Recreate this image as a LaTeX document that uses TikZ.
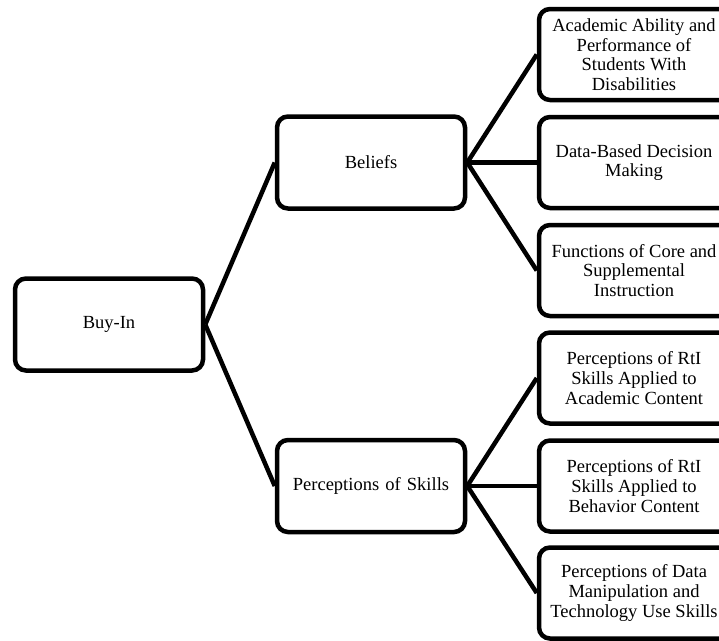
\documentclass[tikz,border=0pt]{standalone}
\usepackage{fontspec}
\setmainfont{Liberation Serif}
\usetikzlibrary{positioning}
\tikzstyle{caja}=[draw, line width=4.5pt, rounded corners=11pt, text width=176pt,
  text centered, minimum width=188pt, minimum height=92pt, inner sep=0pt,
  font=\fontsize{18.5}{19.6}\selectfont]
% the right column runs past the page edge
\tikzstyle{hoja}=[caja, text width=, minimum width=200pt, minimum height=91pt]
\tikzstyle{rama} = [draw, line width=4.5pt, color=black]
\newcommand{\caja}[2]{node (c#1) [caja] {#2}}
\newcommand{\hoja}[2]{node (c#1) [hoja] {\hspace*{-10pt}\parbox{176pt}{\centering #2}}}

\begin{document}
\begin{tikzpicture}[x=1pt,y=-1pt]
\useasboundingbox (0,0) rectangle (719,640);
\clip (0,0) rectangle (719,640);

% Draw diagram elements
\path (109,324.5)          \caja{1}{Buy-In};

\path (c1) +(262,-162.0)   \caja{2}{Beliefs};
\path (c2) +(0,323.5)      \caja{3}{Perceptions of Skills};

\path (c2) +(268,-108.0)   \hoja{4}{Academic Ability and\\ Performance of\\ Students With\\ Disabilities};
\path (c2) +(268,0.0)      \hoja{5}{Data-Based Decision\\ Making};
\path (c2) +(268,108.0)    \hoja{6}{Functions of Core and\\ Supplemental\\ Instruction};

\path (c3) +(268,-108.0)   \hoja{7}{Perceptions of RtI\\ Skills Applied to\\ Academic Content};
\path (c3) +(268,0.0)      \hoja{8}{Perceptions of RtI\\ Skills Applied to\\ Behavior Content};
\path (c3) +(268,107.0)    \hoja{9}{Perceptions of Data\\ Manipulation and\\ Technology Use Skills};

% Draw lines between elements
\path [rama] (c1.east) -- (c2.west);
\path [rama] (c1.east) -- (c3.west);

\path [rama] (c2.east) -- (c4.west);
\path [rama] (c2.east) -- (c5.west);
\path [rama] (c2.east) -- (c6.west);

\path [rama] (c3.east) -- (c7.west);
\path [rama] (c3.east) -- (c8.west);
\path [rama] (c3.east) -- (c9.west);

\end{tikzpicture}
\end{document}
